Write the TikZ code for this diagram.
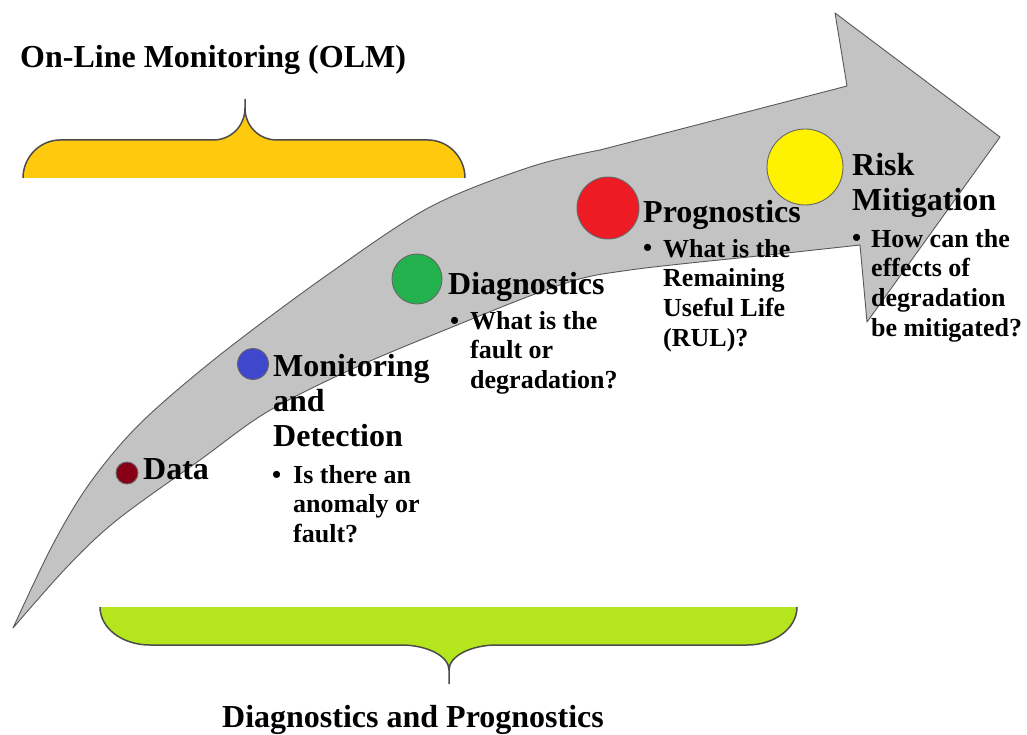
\documentclass[tikz,border=0pt]{standalone}
\usepackage{fontspec}
\setmainfont{Liberation Serif}
\usepackage{tikz}
\definecolor{arrowgray}{RGB}{195,195,195}
\definecolor{olmgold}{RGB}{255,201,14}
\definecolor{dpgreen}{RGB}{181,230,29}
\definecolor{datared}{RGB}{136,0,21}
\definecolor{monblue}{RGB}{63,72,204}
\definecolor{diaggreen}{RGB}{34,177,76}
\definecolor{progred}{RGB}{237,28,36}
\definecolor{riskyellow}{RGB}{255,242,0}

\begin{document}
\begin{tikzpicture}[x=1pt,y=-1pt,line join=round,
        heading/.style={anchor=base west,inner sep=0pt,align=left,
            font=\fontsize{32}{35}\selectfont\bfseries},
        question/.style={anchor=base west,inner sep=0pt,align=left,
            font=\fontsize{26}{29.8}\selectfont\bfseries},
        dot/.style={circle,inner sep=0pt,draw=black!60,line width=0.9pt}]
        \useasboundingbox (0,0) rectangle (1027,735);

        % draw the big bent arrow
        \filldraw[fill=arrowgray,draw=black!65,line width=0.9pt]
            plot[smooth,tension=0.55] coordinates {(13,628) (50,550) (83,493)
                (120,445) (160,405) (230,347) (330,273) (430,207) (530,167) (600,150)}
            -- (847,86) -- (835,13) -- (1000,137) -- (867,322) -- (860,245)
            -- plot[smooth,tension=0.55] coordinates {(860,245) (787,253) (630,270)
                (560,285) (440,332) (350,370) (267,412) (200,460) (117,520)
                (67,567) (13,628)}
            -- cycle;

        % draw the upper brace
        \fill[olmgold] (23,178) .. controls (23,157) and (40,140) .. (60,140)
            -- (213,140) .. controls (231,140) and (245,126) .. (245,108)
            .. controls (245,126) and (259,140) .. (277,140)
            -- (428,140) .. controls (448,140) and (465,157) .. (465,178) -- cycle;
        \draw[black!70,line width=1.5pt] (23,178) .. controls (23,157) and (40,140) .. (60,140)
            -- (213,140) .. controls (231,140) and (245,126) .. (245,108)
            .. controls (245,126) and (259,140) .. (277,140)
            -- (428,140) .. controls (448,140) and (465,157) .. (465,178)
            (245,108) -- (245,99);

        % draw the lower brace
        \fill[dpgreen] (100,607) .. controls (100,628) and (122,645) .. (150,645)
            -- (401,645) .. controls (427,645) and (449,656) .. (449,670)
            .. controls (449,656) and (471,645) .. (497,645)
            -- (747,645) .. controls (775,645) and (797,628) .. (797,607) -- cycle;
        \draw[black!70,line width=1.5pt] (100,607) .. controls (100,628) and (122,645) .. (150,645)
            -- (401,645) .. controls (427,645) and (449,656) .. (449,670)
            .. controls (449,656) and (471,645) .. (497,645)
            -- (747,645) .. controls (775,645) and (797,628) .. (797,607)
            (449,670) -- (449,684);

        % the two titles
        \node[heading] (olm) at (20,68) {On-Line Monitoring (OLM)};
        \node[heading] (dp) at (222,727) {Diagnostics and Prognostics};

        % dots along the arrow
        \node[dot,fill=datared,minimum size=22pt] (data dot) at (127,473) {};
        \node[dot,fill=monblue,minimum size=31pt] (mon dot) at (253,364) {};
        \node[dot,fill=diaggreen,minimum size=50pt] (diag dot) at (417,279) {};
        \node[dot,fill=progred,minimum size=62pt] (prog dot) at (608,208) {};
        \node[dot,fill=riskyellow,minimum size=76pt] (risk dot) at (805,167) {};

        % the stage names (a node with several lines sits on its last line)
        \node[heading] (data) at (143,479) {Data};
        \node[heading] (mon) at (273,446) {Monitoring\\and\\Detection};
        \node[heading] (diag) at (448,294) {Diagnostics};
        \node[heading] (prog) at (643,223) {Prognostics};
        \node[heading] (risk) at (852,211) {Risk\\Mitigation};

        % the questions under each stage
        \foreach \n/\bx/\tx/\y/\ylast/\q in {
            mon/272/293/483/542.6/{Is there an\\anomaly or\\fault?},
            diag/450/470/329/388.6/{What is the\\fault or\\degradation?},
            prog/643/663/257/346.4/{What is the\\Remaining\\Useful Life\\(RUL)?},
            risk/852/871/247/336.4/{How can the\\effects of\\degradation\\be mitigated?}}
        {
            \node[question] (\n bullet) at (\bx,\y) {\textbullet};
            \node[question] (\n q) at (\tx,\ylast) {\q};
        }
\end{tikzpicture}
\end{document}
